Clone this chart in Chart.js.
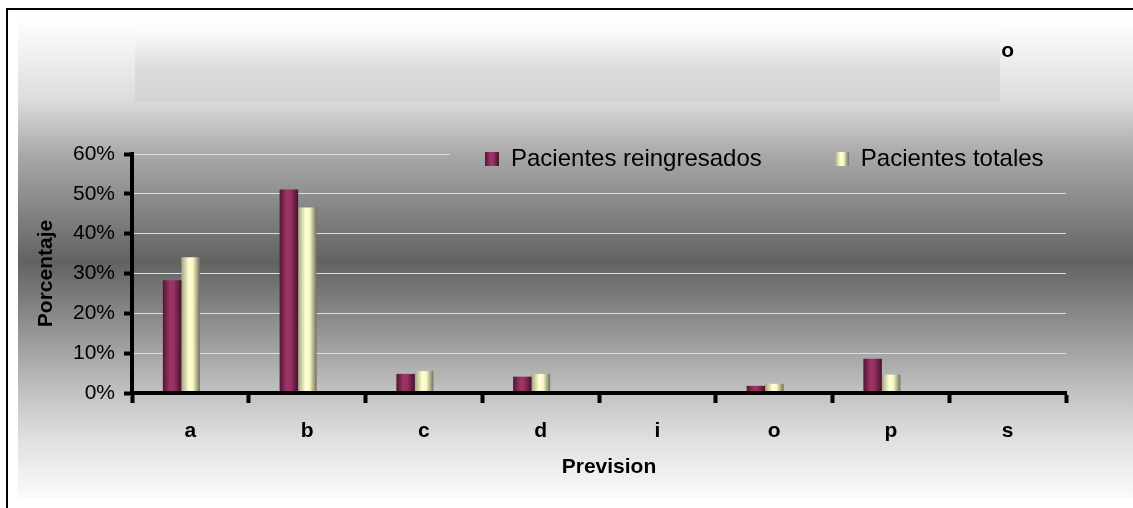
<!DOCTYPE html>
<html>
<head>
<meta charset="utf-8">
<script src="https://cdn.jsdelivr.net/npm/chart.js@4.4.1/dist/chart.umd.min.js"></script>
<style>
  html, body { margin: 0; padding: 0; background: #fff; }
  canvas { display: block; }
</style>
</head>
<body>
<canvas id="c" width="1133" height="508"></canvas>
<script>
// ---- data ----
const CATEGORIES = ['a', 'b', 'c', 'd', 'i', 'o', 'p', 's'];
const REINGRESADOS = [28.3, 51.1, 4.8, 4.1, 0, 1.8, 8.6, 0.4];
const TOTALES = [34.1, 46.6, 5.5, 4.8, 0, 2.3, 4.6, 0.1];
const SERIES_NAMES = ['Pacientes reingresados', 'Pacientes totales'];
const Y_TICKS = [0, 10, 20, 30, 40, 50, 60];
const CHART_TITLE = 'o';
const X_TITLE = 'Prevision';
const Y_TITLE = 'Porcentaje';

// ---- styling ----
const FONT = "'Liberation Sans', Arial, Helvetica, sans-serif";
const CAT_PCT = 0.317;
const BAR_PCT = 1;
const BAR_SHIFT = -9;              // clustered columns sit a little left of the category centre
const X_TITLE_SHIFT = 10;          // axis title sits a little right of the plot centre
const LEGEND_PAD = 73;             // spacing between legend entries
const REING_STOPS = [[0, '#521532'], [0.38, '#9c3568'], [0.6, '#963163'], [1, '#46112b']];
const TOT_STOPS = [[0, '#a5a585'], [0.4, '#ffffd2'], [0.62, '#f8f8c6'], [1, '#71715a']];
const BG_STOPS = [[20, '#ffffff'], [100, '#dcdcdc'], [154, '#a9a9a9'], [262, '#626262'],
                  [393, '#c2c2c2'], [440, '#e0e0e0'], [498, '#fbfbfb']];

function hGradient(ctx, x0, w, stops) {
  const g = ctx.createLinearGradient(x0, 0, x0 + w, 0);
  stops.forEach(([o, c]) => g.addColorStop(o, c));
  return g;
}

function bgGradient(ctx) {
  const y0 = BG_STOPS[0][0], y1 = BG_STOPS[BG_STOPS.length - 1][0];
  const g = ctx.createLinearGradient(0, y0, 0, y1);
  BG_STOPS.forEach(([y, c]) => g.addColorStop((y - y0) / (y1 - y0), c));
  return g;
}

// column fill: cylindrical shading across the width of each bar
function barFill(stops, solid) {
  return (c) => {
    const chart = c.chart;
    const xs = chart.scales && chart.scales.x;
    if (c.dataIndex === undefined || !xs || !isFinite(xs.left)) return solid;
    const cat = (xs.right - xs.left) / CATEGORIES.length;
    const group = cat * CAT_PCT;
    const w = group / 2 * BAR_PCT;
    const center = xs.getPixelForValue(c.dataIndex);
    const left = center - group / 2 + c.datasetIndex * group / 2;
    return hGradient(chart.ctx, left, w, stops);
  };
}

const framePlugin = {
  id: 'frame',
  afterLayout(chart) {
    const t = chart.titleBlock;
    if (t) { t.right = 1014; }
    const lg = chart.legend;
    if (lg) {
      lg.left = 485 - LEGEND_PAD;
      lg.top = 147 - LEGEND_PAD;
      lg.right = 1133;
      lg.bottom = lg.top + 2 * LEGEND_PAD + 24;
      lg.width = lg.right - lg.left;
      lg.height = lg.bottom - lg.top;
    }
    const xs = chart.scales.x;
    if (xs && !xs._titleShifted) {
      const orig = xs.drawTitle;
      xs.drawTitle = function () {
        this.ctx.save();
        this.ctx.translate(X_TITLE_SHIFT, 0);
        orig.apply(this, arguments);
        this.ctx.restore();
      };
      xs._titleShifted = true;
    }
  },
  beforeDraw(chart) {
    const ctx = chart.ctx;
    ctx.save();
    ctx.fillStyle = '#ffffff';
    ctx.fillRect(0, 0, chart.width, chart.height);
    // outer frame
    ctx.fillStyle = '#000000';
    ctx.fillRect(6, 8, 1127, 2);
    ctx.fillRect(6, 8, 2, 500);
    // chart background
    ctx.fillStyle = bgGradient(ctx);
    ctx.fillRect(18, 20, 1115, 478);
    // title panel
    const g = ctx.createLinearGradient(0, 29, 0, 101);
    g.addColorStop(0, '#fdfdfd');
    g.addColorStop(0.55, '#dcdcdc');
    g.addColorStop(1, '#d3d3d3');
    ctx.fillStyle = g;
    ctx.fillRect(135, 29, 865, 72);
    ctx.restore();
  },
  beforeDatasetsDraw(chart) {
    const ctx = chart.ctx;
    const lg = chart.legend;
    // legend panel sits over the top gridline
    ctx.save();
    ctx.fillStyle = bgGradient(ctx);
    ctx.fillRect(450, 138, 640, 36);
    ctx.restore();
    if (lg && lg.legendItems) {
      lg.legendItems.forEach((item, i) => {
        const hb = lg.legendHitBoxes[i];
        if (hb) item.fillStyle = hGradient(ctx, hb.left, 14, i === 0 ? REING_STOPS : TOT_STOPS);
      });
      lg.draw();
    }
    ctx.save();
    ctx.translate(BAR_SHIFT, 0);
  },
  afterDatasetsDraw(chart) {
    chart.ctx.restore();
  }
};

new Chart(document.getElementById('c'), {
  type: 'bar',
  data: {
    labels: CATEGORIES,
    datasets: [
      {
        label: SERIES_NAMES[0],
        data: REINGRESADOS,
        backgroundColor: barFill(REING_STOPS, '#993366'),
        borderWidth: 0,
        categoryPercentage: CAT_PCT,
        barPercentage: BAR_PCT
      },
      {
        label: SERIES_NAMES[1],
        data: TOTALES,
        backgroundColor: barFill(TOT_STOPS, '#ffffcc'),
        borderWidth: 0,
        categoryPercentage: CAT_PCT,
        barPercentage: BAR_PCT
      }
    ]
  },
  options: {
    responsive: false,
    devicePixelRatio: 1,
    animation: false,
    events: [],
    layout: { padding: { left: 18, right: 67, top: 20, bottom: 15 } },
    plugins: {
      tooltip: { enabled: false },
      title: {
        display: true,
        text: CHART_TITLE,
        align: 'end',
        color: '#000',
        font: { family: FONT, size: 21, weight: 'bold' },
        padding: { top: 19, bottom: 89.8 }
      },
      legend: {
        display: true,
        position: 'chartArea',
        align: 'start',
        labels: {
          color: '#000',
          font: { family: FONT, size: 24 },
          boxWidth: 14,
          boxHeight: 14,
          padding: LEGEND_PAD
        }
      }
    },
    scales: {
      x: {
        afterFit(s) { s.height = 100; },
        grid: {
          offset: true,
          drawOnChartArea: false,
          drawTicks: true,
          tickLength: 10,
          tickColor: '#000',
          tickWidth: 4,
          z: 1
        },
        border: { display: true, color: '#000', width: 4, z: 1 },
        ticks: {
          color: '#000',
          font: { family: FONT, size: 21, weight: 'bold' },
          padding: 16,
          maxRotation: 0
        },
        title: {
          display: true,
          text: X_TITLE,
          color: '#000',
          font: { family: FONT, size: 21, weight: 'bold' },
          padding: { top: 0, bottom: 13 }
        }
      },
      y: {
        afterFit(s) { s.width = 114; },
        min: Y_TICKS[0],
        max: Y_TICKS[Y_TICKS.length - 1],
        afterBuildTicks(s) { s.ticks = Y_TICKS.map(v => ({ value: v })); },
        grid: {
          color: '#dedede',
          lineWidth: 1,
          drawTicks: true,
          tickLength: 8,
          tickColor: '#000',
          tickWidth: 4
        },
        border: { display: true, color: '#000', width: 4 },
        ticks: {
          color: '#000',
          font: { family: FONT, size: 21 },
          padding: 9,
          callback: (v) => v + '%'
        },
        title: {
          display: true,
          text: Y_TITLE,
          color: '#000',
          font: { family: FONT, size: 21, weight: 'bold' },
          padding: { top: 16, bottom: 0 }
        }
      }
    }
  },
  plugins: [framePlugin]
});
</script>
</body>
</html>
